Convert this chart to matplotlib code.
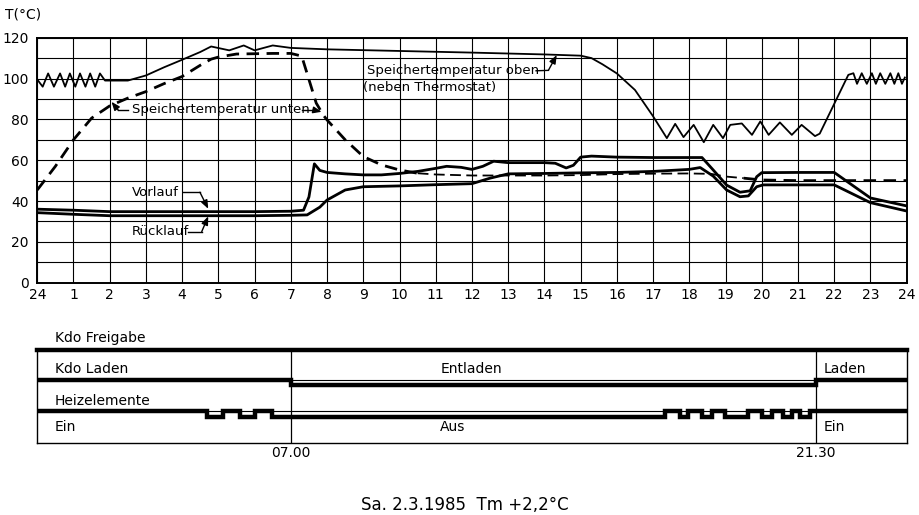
import numpy as np
import matplotlib
matplotlib.use('Agg')
import matplotlib.pyplot as plt

plt.rcParams['font.family'] = ['DejaVu Sans']

# --- Speichertemperatur oben (neben Thermostat) ---
oben_t = [0, 0.15, 0.3, 0.46, 0.63, 0.77, 0.9, 1.05, 1.18, 1.33, 1.46, 1.6, 1.73, 1.87,
          2.5, 3.0, 3.5, 4.0, 4.5, 4.8, 5.3, 5.7, 6.0, 6.5, 7.0, 8.0, 10, 12, 14, 15,
          15.3, 15.6, 16, 16.5, 17, 17.38, 17.61, 17.84, 18.12, 18.4, 18.66, 18.93,
          19.13, 19.45, 19.73, 19.96, 20.19, 20.5, 20.83, 21.1, 21.47, 21.6, 22.39,
          22.53, 22.63, 22.76, 22.9, 23.04, 23.15, 23.27, 23.41, 23.55, 23.66, 23.77,
          23.87, 23.95]
oben_T = [99.5, 96, 102.5, 96, 102.5, 96, 102.5, 96, 102.5, 96, 102.5, 96, 102.5, 99,
          99, 101.5, 105.5, 109.2, 113, 115.7, 113.8, 116.2, 113.8, 116.2, 115, 114.3,
          113.5, 112.7, 111.8, 111.2, 110, 107, 102.5, 94.4, 81.5, 70.8, 77.8, 71.3,
          77.3, 68.8, 77.3, 70.8, 77.3, 78, 72.4, 79, 72.4, 78.5, 72.4, 77.3, 71.8, 73,
          101.8, 102.6, 97.4, 102.6, 97.4, 102.6, 97.4, 102.6, 97.4, 102.6, 97.4, 102.6,
          97.4, 100.5]

# --- Speichertemperatur unten ---
unten_t = [0, 0.5, 1, 1.5, 2, 2.5, 3, 3.5, 4, 4.5, 4.8, 5, 5.5, 6.5, 7, 7.3, 7.5, 7.7,
           7.9, 8, 8.5, 9, 9.5, 10, 10.5, 11, 12, 13, 14, 15, 16, 17, 18, 18.6, 19,
           19.5, 20, 21, 22, 23, 24]
unten_T = [45.4, 57, 70, 80.6, 86.6, 90.4, 93.6, 97.5, 101, 106.5, 109.5, 110.5, 112,
           112.3, 112.3, 111, 99.5, 88, 82, 79.7, 70, 61.8, 57.7, 55.2, 53.6, 53, 52.5,
           52.5, 52.5, 52.7, 53.2, 53.4, 53.5, 53.3, 52, 51.2, 50.3, 50, 50, 50, 50]

# --- Vorlauf ---
vor_t = [0, 1, 2, 3, 4, 5, 6, 7, 7.35, 7.5, 7.65, 7.8, 8, 8.5, 9, 9.5, 10, 10.5, 11,
         11.3, 11.7, 12, 12.3, 12.6, 13, 14, 14.3, 14.6, 14.8, 15, 15.3, 16, 17, 18,
         18.35, 18.66, 19.03, 19.4, 19.68, 19.86, 20, 21, 22, 23, 24]
vor_T = [36, 35.5, 34.8, 34.8, 34.8, 34.8, 34.8, 35, 35.5, 42, 58.2, 55, 54, 53.3,
         52.8, 52.8, 53.5, 54.5, 56, 57, 56.5, 55.5, 57, 59.5, 58.8, 58.8, 58.5, 56.2,
         57.5, 61.5, 62, 61.5, 61.3, 61.3, 61.3, 55.2, 47.8, 44.3, 45, 51.9, 53.9, 54,
         54, 41.5, 37.6]

# --- Rücklauf ---
rueck_t = [0, 1, 2, 4, 6, 7, 7.45, 7.8, 8, 8.5, 9, 10, 11, 12, 12.5, 13, 14, 15, 16, 17,
           18, 18.3, 18.66, 19.03, 19.4, 19.63, 19.86, 20.04, 22, 23, 24]
rueck_T = [34.3, 33.5, 32.8, 32.8, 32.8, 33, 33.2, 37, 40.5, 45.4, 47, 47.4, 48, 48.5,
           51.2, 53.3, 53.5, 53.8, 54, 54.5, 55.5, 56.4, 52.2, 45.4, 42.1, 42.5, 47,
           47.9, 47.9, 39.2, 35.1]

hours = list(range(25))
hour_labels = ['24'] + [str(h) for h in range(1, 25)]

# --- Schaltzustände (unten) ---
laden_t = [0, 7.0, 21.5, 24]
laden_on = [1, 0, 1]
heiz_t = [0, 4.68, 5.12, 5.6, 6.02, 6.47, 17.33, 17.74, 17.97, 18.34, 18.62, 18.99,
          19.63, 20.0, 20.28, 20.6, 20.83, 21.06, 21.33, 24]
heiz_on = [1, 0, 1, 0, 1, 0, 1, 0, 1, 0, 1, 0, 1, 0, 1, 0, 1, 0, 1]

fig = plt.figure(figsize=(9.2, 5.15), dpi=100)
ax = fig.add_axes([0.0405, 0.4511, 0.945, 0.4757])

ax.plot(oben_t, oben_T, color='black', lw=1.3, solid_joinstyle='round')
# dashed line is drawn thick, thinner in the flat middle part
i1, i2 = unten_t.index(10.5), unten_t.index(19.5)
ax.plot(unten_t[:i1 + 1], unten_T[:i1 + 1], color='black', lw=2.0, dashes=(4.5, 2.7))
ax.plot(unten_t[i1:i2 + 1], unten_T[i1:i2 + 1], color='black', lw=1.3, dashes=(6, 3))
ax.plot(unten_t[i2:], unten_T[i2:], color='black', lw=2.0, dashes=(4.5, 2.7))
ax.plot(vor_t, vor_T, color='black', lw=2.0)
ax.plot(rueck_t, rueck_T, color='black', lw=2.0)

ax.set_xlim(0, 24)
ax.set_ylim(0, 120)
ax.set_xticks(hours)
ax.set_xticklabels(hour_labels)
ax.set_yticks(range(0, 121, 20))
ax.set_yticks(range(10, 120, 20), minor=True)
ax.grid(True, which='both', color='black', lw=0.8)
ax.tick_params(axis='both', which='both', length=0, labelsize=10)
ax.tick_params(axis='y', pad=6)
ax.tick_params(axis='x', pad=4)
for s in ax.spines.values():
    s.set_linewidth(1.4)
fig.text(5 / 920, 1 - 15 / 515, 'T(°C)', fontsize=10, va='center')

# labels with leaders
def leader(pts, a):
    xs, ys = zip(*pts)
    a.plot(xs[:-1], ys[:-1], color='black', lw=1.0)
    a.annotate('', xy=pts[-1], xytext=pts[-2],
               arrowprops=dict(arrowstyle='-|>,head_length=0.5,head_width=0.2',
                               color='black', lw=1.0, shrinkA=0, shrinkB=0))

ax.text(9.09, 103.8, 'Speichertemperatur oben', fontsize=9.5, va='center')
ax.text(9.0, 95.7, '(neben Thermostat)', fontsize=9.5, va='center')
leader([(13.77, 103.8), (14.11, 104), (14.34, 111.5)], ax)

ax.text(2.61, 84.6, 'Speichertemperatur unten', fontsize=9.5, va='center')
leader([(2.51, 84.4), (2.24, 84.4), (2.05, 88.6)], ax)
leader([(7.30, 84.6), (7.62, 84.6), (7.85, 83.7)], ax)

ax.text(2.61, 44.1, 'Vorlauf', fontsize=9.5, va='center')
leader([(4.03, 44.3), (4.49, 44.3), (4.72, 36.2)], ax)
ax.text(2.61, 25, 'Rücklauf', fontsize=9.5, va='center')
leader([(4.17, 25), (4.54, 25), (4.72, 32.5)], ax)

# --- Steuersignale ---
ax2 = fig.add_axes([0.0405, 0.1404, 0.945, 0.18])
ax2.set_xlim(0, 24)
ax2.set_ylim(0, 92.7)
ax2.set_xticks([])
ax2.set_yticks([])
for s in ax2.spines.values():
    s.set_linewidth(1.0)
ax2.spines['top'].set_linewidth(3.2)

row1, row2 = 62.4, 31.2
ax2.axhline(row1, color='black', lw=0.8)
ax2.axhline(row2, color='black', lw=0.8)
ax2.axvline(7.0, color='black', lw=0.9)
ax2.axvline(21.5, color='black', lw=0.9)

laden_y = [row1 + 0.5 if v else row1 - 5 for v in laden_on]
ax2.step(laden_t, laden_y + [laden_y[-1]], where='post', color='black', lw=3.2,
         solid_joinstyle='miter')
heiz_y = [row2 if v else row2 - 6 for v in heiz_on]
ax2.step(heiz_t, heiz_y + [heiz_y[-1]], where='post', color='black', lw=3.2,
         solid_joinstyle='miter')

kw = dict(fontsize=10, va='center')
ax2.text(0.49, 104.7, 'Kdo Freigabe', clip_on=False, **kw)
ax2.text(0.49, 73.7, 'Kdo Laden', **kw)
ax2.text(11.98, 73.7, 'Entladen', ha='center', **kw)
ax2.text(21.72, 73.7, 'Laden', **kw)
ax2.text(0.49, 41.7, 'Heizelemente', **kw)
ax2.text(0.49, 15.4, 'Ein', **kw)
ax2.text(11.46, 15.4, 'Aus', ha='center', **kw)
ax2.text(21.72, 15.4, 'Ein', **kw)
ax2.text(7.0, -10, '07.00', ha='center', clip_on=False, **kw)
ax2.text(21.5, -10, '21.30', ha='center', clip_on=False, **kw)

fig.text(465 / 920, 1 - 505 / 515, 'Sa. 2.3.1985  Tm +2,2°C', fontsize=12,
         ha='center', va='center')

fig.savefig('out.png', dpi=100)
